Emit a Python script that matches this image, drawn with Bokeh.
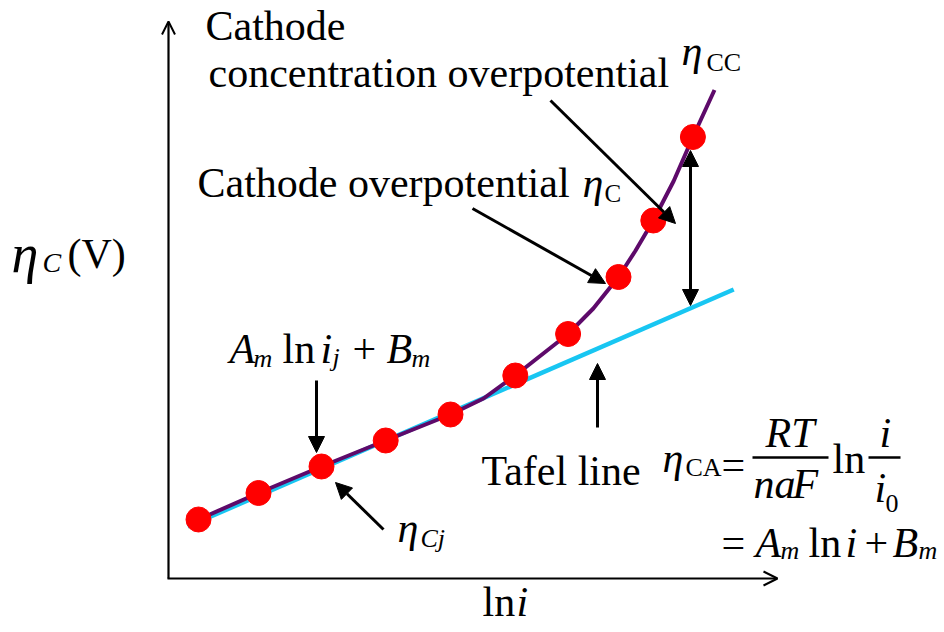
from bokeh.plotting import figure
from bokeh.models import Range1d, Arrow, NormalHead, OpenHead, Label
from bokeh.embed import file_html
from bokeh.resources import INLINE

# ---- data (ln i, eta_C) in schematic units ----
dot_lni = [0.5, 1.5, 2.55, 3.62, 4.7, 5.78, 6.66, 7.5, 8.08, 8.74]
dot_eta = [1.18, 1.71, 2.24, 2.76, 3.28, 4.06, 4.89, 6.03, 7.16, 8.83]

curve_lni = [0.33, 0.5, 1.5, 2.55, 3.62, 4.7, 5.25, 5.78, 6.66, 7.08, 7.5, 7.78, 8.08, 8.42, 8.74, 9.1]
curve_eta = [1.08, 1.18, 1.71, 2.24, 2.76, 3.28, 3.6, 4.06, 4.89, 5.4, 6.03, 6.55, 7.16, 7.95, 8.83, 9.77]

tafel_lni = [0.32, 9.42]
tafel_eta = [1.04, 5.78]

PURPLE = "#5e0a6a"
CYAN = "#18c6f2"
FONT = "Liberation Serif"
TXT_DY = -15  # label baseline correction (pixels)

# layout helpers: page pixel -> data units
def dx(px):
    return (px - 168) / 60.0

def dy(py):
    return (578 - py) / 50.0

p = figure(width=944, height=632,
           x_range=Range1d(dx(0), dx(944)), y_range=Range1d(dy(632), dy(0)),
           x_axis_type=None, y_axis_type=None,
           output_backend="svg", toolbar_location=None, min_border=0)
p.xgrid.visible = False
p.ygrid.visible = False
p.outline_line_color = None
p.background_fill_color = "white"
p.border_fill_color = "white"

# axes with open arrow heads
p.add_layout(Arrow(end=OpenHead(size=13, line_width=2, line_color="black"),
                   x_start=dx(168), y_start=dy(578), x_end=dx(168), y_end=dy(21),
                   line_width=2.2, line_color="black"))
p.add_layout(Arrow(end=OpenHead(size=14, line_width=2, line_color="black"),
                   x_start=dx(167), y_start=dy(578), x_end=dx(777), y_end=dy(578),
                   line_width=2.2, line_color="black"))

# data marks
p.line(tafel_lni, tafel_eta, line_color=CYAN, line_width=4.5)
p.line(curve_lni, curve_eta, line_color=PURPLE, line_width=4, line_join="round")
p.scatter(dot_lni, dot_eta, size=25, fill_color="#ff0000", line_color="#ff0000")

def arrow(x0, y0, x1, y1, both=False):
    head = lambda: NormalHead(size=16, fill_color="black", line_color="black", line_width=1)
    p.add_layout(Arrow(start=head() if both else None, end=head(),
                       x_start=dx(x0), y_start=dy(y0), x_end=dx(x1), y_end=dy(y1),
                       line_width=3, line_color="black"))

arrow(550, 100, 675, 223)      # concentration overpotential
arrow(472, 208, 605, 283)      # cathode overpotential
arrow(690, 150, 690, 305, both=True)
arrow(597, 427, 597, 363)      # Tafel line
arrow(316, 380, 316, 452)      # A_m ln i_j + B_m
arrow(383, 529, 335, 482)      # eta_Cj

def txt(s, x, y, size, style="normal"):
    p.add_layout(Label(x=dx(x), y=dy(y + TXT_DY), text=s, text_font=FONT,
                       text_font_size=f"{size}px", text_font_style=style,
                       text_baseline="alphabetic", text_align="left",
                       text_color="black"))

# annotation texts
txt("Cathode", 205, 40, 42)
txt("concentration overpotential", 208, 87, 42)
txt("η", 681, 65, 42, "italic")
txt("CC", 706, 77, 26)
txt("Cathode overpotential", 197, 197, 42)
txt("η", 582, 197, 42, "italic")
txt("C", 604, 208, 25)

# y label
txt("η", 11, 268, 54, "italic")
txt("C", 42, 277, 28, "italic")
txt("(V)", 67, 268, 42)

# x label
txt("ln", 482, 616, 42)
txt("i", 516, 616, 42, "italic")

# A_m ln i_j + B_m
txt("A", 229, 363, 42, "italic")
txt("m", 253, 373, 26, "italic")
txt("ln", 282, 363, 42)
txt("i", 320, 363, 42, "italic")
txt("j", 332, 372, 26, "italic")
txt("+", 352, 363, 42)
txt("B", 386, 363, 42, "italic")
txt("m", 411, 373, 26, "italic")

# eta_Cj
txt("η", 397, 542, 42, "italic")
txt("Cj", 420, 553, 26, "italic")

txt("Tafel line", 481, 485, 42)

# Tafel formula
txt("η", 662, 472, 42, "italic")
txt("CA", 685, 482, 26)
txt("=", 721, 479, 42)
txt("RT", 765, 447, 42, "italic")
txt("na", 753, 498, 42, "italic")
txt("F", 792, 498, 42, "italic")
txt("ln", 832, 473, 42)
txt("i", 879, 447, 42, "italic")
txt("i", 874, 502, 42, "italic")
txt("0", 885, 518, 26)
p.line([dx(752), dx(828)], [dy(457), dy(457)], line_color="black", line_width=2.5)
p.line([dx(868), dx(900)], [dy(457), dy(457)], line_color="black", line_width=2.5)

txt("=", 721, 557, 42)
txt("A", 755, 557, 42, "italic")
txt("m", 780, 565, 26, "italic")
txt("ln", 808, 557, 42)
txt("i", 845, 557, 42, "italic")
txt("+", 864, 557, 42)
txt("B", 892, 557, 42, "italic")
txt("m", 918, 565, 26, "italic")

open("out.html", "w").write(file_html(p, INLINE))
